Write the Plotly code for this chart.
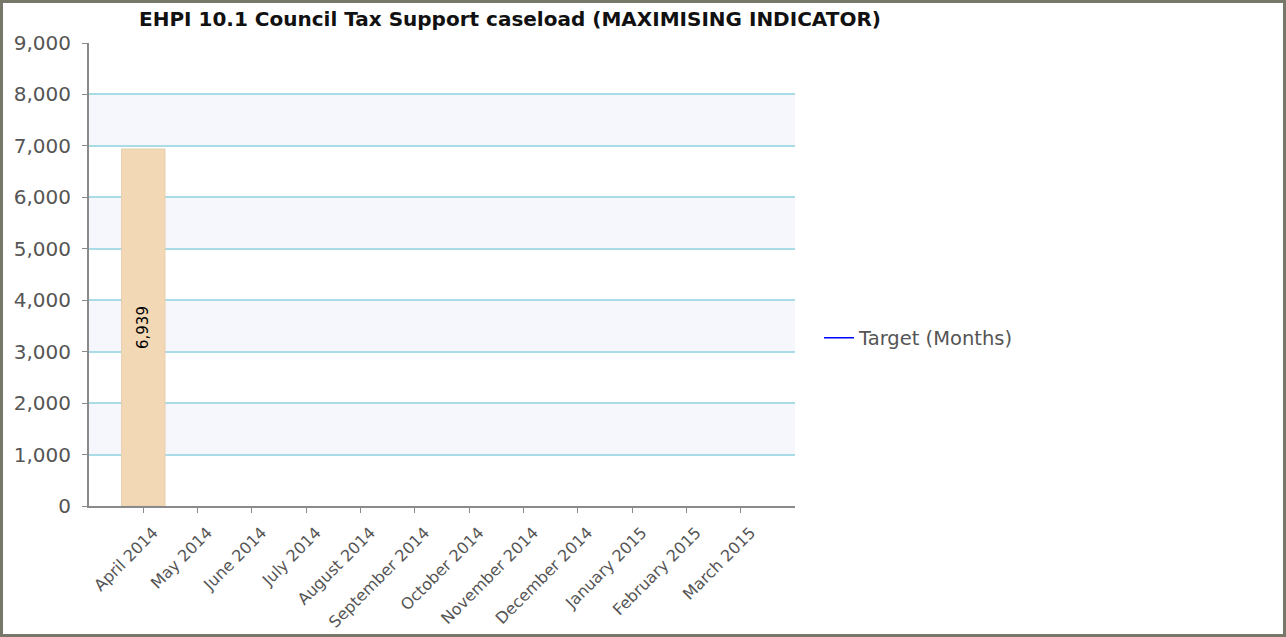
import plotly.graph_objects as go

months = ["April 2014", "May 2014", "June 2014", "July 2014", "August 2014",
          "September 2014", "October 2014", "November 2014", "December 2014",
          "January 2015", "February 2015", "March 2015"]
caseload = [6939, None, None, None, None, None, None, None, None, None, None, None]
target = [None] * 12
y_ticks = [0, 1000, 2000, 3000, 4000, 5000, 6000, 7000, 8000, 9000]

title_text = "EHPI 10.1 Council Tax Support caseload (MAXIMISING INDICATOR)"
FONT = "DejaVu Sans"
W, H = 1286, 637
L, R, T, B = 89, W - 795, 43, H - 506

fig = go.Figure()
fig.add_trace(go.Bar(
    x=months, y=caseload, width=0.8,
    marker=dict(color="#f2d8b5", line=dict(color="#e6cfae", width=1)),
    text=[f"{v:,}" if v is not None else "" for v in caseload],
    textposition="inside", insidetextanchor="middle", textangle=-90,
    textfont=dict(family=FONT, size=15, color="#000000"),
    showlegend=False, hoverinfo="x+y",
))
fig.add_trace(go.Scatter(
    x=months, y=target, mode="lines", name="Target (Months)",
    line=dict(color="#0000ff", width=1.5),
))

shapes = []
# alternating horizontal bands
for lo, hi in zip(y_ticks[1::2], y_ticks[2::2]):
    shapes.append(dict(type="rect", xref="paper", yref="y", x0=0, x1=1, y0=lo, y1=hi,
                       fillcolor="#f5f7fd", line=dict(width=0), layer="below"))
# outer frame
pw, ph = W - L - R, H - T - B
shapes.append(dict(type="rect", xref="paper", yref="paper",
                   x0=(1.5 - L) / pw, x1=(W - 1.5 - L) / pw,
                   y0=-(B - 1.5) / ph, y1=1 + (T - 1.5) / ph,
                   line=dict(color="#77776a", width=3), fillcolor="rgba(0,0,0,0)", layer="above"))

fig.update_layout(
    width=W, height=H,
    margin=dict(l=L, r=R, t=T, b=B, pad=0, autoexpand=False),
    paper_bgcolor="#ffffff", plot_bgcolor="#ffffff",
    font=dict(family=FONT, color="#555555"),
    title=dict(text=f"<b>{title_text}</b>", x=510 / W, xanchor="center",
               y=1 - 19 / H, yanchor="middle", yref="container",
               font=dict(family=FONT, size=20, color="#111111")),
    showlegend=True,
    legend=dict(x=(819 - L) / pw, xanchor="left", y=(506 - 338) / ph, yanchor="middle",
                font=dict(family=FONT, size=19.5, color="#555555"),
                bgcolor="rgba(0,0,0,0)"),
    shapes=shapes,
    bargap=0.2,
)
fig.update_xaxes(
    type="category", range=[-1, 12], tickangle=-45, automargin=False,
    showline=True, linecolor="#8a8a8a", linewidth=2,
    ticks="outside", ticklen=5, tickcolor="#8a8a8a", tickwidth=1,
    ticklabelshift=10, ticklabelstandoff=4,
    showgrid=False, tickfont=dict(family=FONT, size=16, color="#555555"),
)
fig.update_yaxes(
    range=[0, 9000], tickvals=y_ticks, tickformat=",d", automargin=False,
    showline=True, linecolor="#8a8a8a", linewidth=2,
    ticks="outside", ticklen=5, tickcolor="#8a8a8a",
    showgrid=True, gridcolor="#a9dce6", gridwidth=1.5,
    zeroline=False, ticklabelstandoff=7,
    tickfont=dict(family=FONT, size=20, color="#555555"),
)

fig.write_html("out.html", config={"displayModeBar": False},
               post_script="document.body.style.margin='0';")
